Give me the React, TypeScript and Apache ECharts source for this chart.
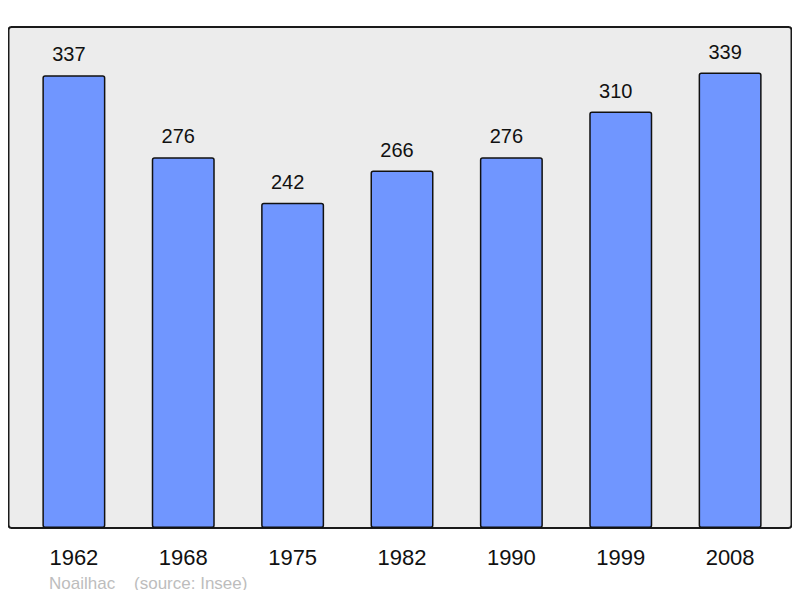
import * as echarts from 'echarts';
import React, { useEffect, useRef } from 'react';

const years = ['1962', '1968', '1975', '1982', '1990', '1999', '2008'];
const population = [337, 276, 242, 266, 276, 310, 339];
const footerText = 'Noailhac    (source: Insee)';

const App: React.FC = () => {
  const chartRef = useRef<HTMLDivElement>(null);

  useEffect(() => {
    let chart: echarts.ECharts | undefined;
    if (chartRef.current) {
      chart = echarts.init(chartRef.current, undefined, { renderer: 'svg' });

      const option: echarts.EChartsOption = {
        animation: false,
        backgroundColor: '#ffffff',
        textStyle: { fontFamily: 'Liberation Sans, Arial, sans-serif' },
        grid: {
          left: 19.2,
          right: 15.2,
          top: 27,
          bottom: 70,
        },
        graphic: [
          {
            type: 'rect',
            z: -10,
            shape: { x: 8.5, y: 27, width: 783, height: 501, r: 3 },
            style: { fill: '#ececec', stroke: '#1a1a1a', lineWidth: 2 },
          },
          {
            type: 'text',
            left: 49,
            top: 575,
            style: {
              text: footerText,
              fill: '#bdbdbd',
              fontSize: 17,
              fontFamily: 'Liberation Sans, Arial, sans-serif',
            },
          },
        ],
        xAxis: {
          type: 'category',
          data: years,
          axisLine: { show: false },
          axisTick: { show: false },
          axisLabel: {
            color: '#111',
            fontSize: 22,
            margin: 18,
          },
        },
        yAxis: {
          type: 'value',
          min: 0,
          max: 372.9,
          show: false,
          splitLine: { show: false },
        },
        series: [
          {
            type: 'bar',
            data: population,
            barWidth: 63,
            itemStyle: {
              color: '#7096ff',
              borderColor: '#111',
              borderWidth: 1.5,
              borderRadius: 2,
            },
            label: {
              show: true,
              position: 'top',
              distance: 11,
              offset: [-5, 0],
              color: '#111',
              fontSize: 20,
            },
          },
        ],
      };

      chart.setOption(option);
    }

    return () => {
      chart?.dispose();
    };
  }, []);

  return <div ref={chartRef} style={{ width: '800px', height: '598px', margin: '-8px' }} />;
};

export default App;
